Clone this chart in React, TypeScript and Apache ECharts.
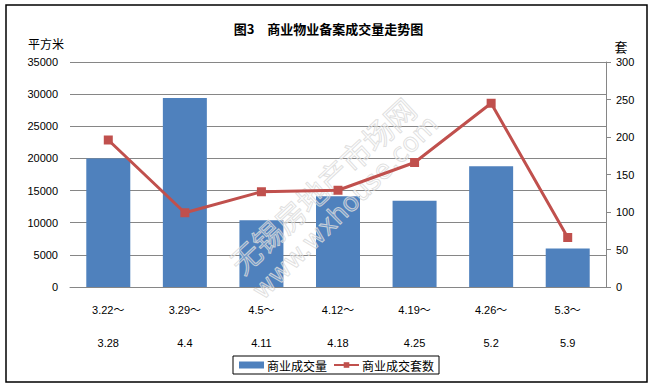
import React, { useEffect, useRef } from "react";
import * as echarts from "echarts";

const categories = ["3.22～\n3.28", "3.29～\n4.4", "4.5～\n4.11", "4.12～\n4.18", "4.19～\n4.25", "4.26～\n5.2", "5.3～\n5.9"];
const areaValues = [20000, 29400, 10400, 14100, 13400, 18800, 6000];
const unitValues = [196, 99, 127, 129, 166, 245, 66];
const leftTicks = { min: 0, max: 35000, interval: 5000 };
const rightTicks = { min: 0, max: 300, interval: 50 };
const titleText = "图3　商业物业备案成交量走势图";
const barName = "商业成交量";
const lineName = "商业成交套数";
const leftUnit = "平方米";
const rightUnit = "套";

const numFont = "'Liberation Sans', 'Noto Sans CJK SC', sans-serif";
const cjkFont = "'Noto Sans CJK SC', sans-serif";

export default function App() {
  const ref = useRef<HTMLDivElement>(null);
  useEffect(() => {
    document.body.style.margin = "0";
    const chart = echarts.init(ref.current!, null, { renderer: "svg" });
    chart.setOption({
      animation: false,
      backgroundColor: "#ffffff",
      title: {
        text: titleText,
        left: "center",
        top: 17,
        textStyle: { fontFamily: cjkFont, fontSize: 13, fontWeight: "bold", color: "#000" },
      },
      graphic: [
        {
          type: "rect",
          shape: { x: 6, y: 5, width: 641, height: 377 },
          style: { fill: "none", stroke: "#000", lineWidth: 1.5 },
          z: 0,
        },
        {
          type: "text",
          x: 46,
          y: 43,
          style: { text: leftUnit, font: "12px 'Noto Sans CJK SC'", fill: "#000", align: "center", verticalAlign: "middle" },
        },
        {
          type: "text",
          x: 621,
          y: 46,
          style: { text: rightUnit, font: "13px 'Noto Sans CJK SC'", fill: "#000", align: "center", verticalAlign: "middle" },
        },
        {
          type: "text",
          x: 322,
          y: 185,
          rotation: 0.75,
          z: 2.5,
          style: {
            text: "无锡房地产市场网",
            font: "30px 'Noto Sans CJK SC'",
            fill: "rgba(255,255,255,0.2)",
            stroke: "rgba(215,215,215,0.85)",
            lineWidth: 1,
            align: "center",
            verticalAlign: "middle",
          },
        },
        {
          type: "text",
          x: 345,
          y: 207,
          rotation: 0.78,
          z: 2.5,
          style: {
            text: "www.wxhouse.com",
            font: "26px 'DejaVu Sans'",
            fill: "rgba(255,255,255,0.2)",
            stroke: "rgba(215,215,215,0.85)",
            lineWidth: 1,
            align: "center",
            verticalAlign: "middle",
          },
        },
      ],
      legend: {
        data: [{ name: barName, icon: "rect" }, { name: lineName }],
        left: 233,
        top: 356,
        itemWidth: 25,
        itemHeight: 7,
        itemGap: 6,
        padding: [3, 5, 3, 6],
        borderColor: "#000",
        borderWidth: 1,
        borderRadius: 0,
        textStyle: { fontFamily: cjkFont, fontSize: 12, color: "#000", padding: [0, 0, 0, -2] },
      },
      grid: { left: 70, right: 51, top: 62, bottom: 101, containLabel: false },
      xAxis: {
        type: "category",
        data: categories,
        axisLine: { show: true, lineStyle: { color: "#868686", width: 1 } },
        axisTick: { show: false },
        axisLabel: {
          interval: 0,
          margin: 6,
          lineHeight: 33,
          fontFamily: numFont,
          fontSize: 11,
          color: "#000",
        },
      },
      yAxis: [
        {
          type: "value",
          min: leftTicks.min,
          max: leftTicks.max,
          interval: leftTicks.interval,
          axisLine: { show: false },
          axisTick: { show: false },
          splitLine: { lineStyle: { color: "#868686", width: 1 } },
          axisLabel: { fontFamily: numFont, fontSize: 11, color: "#000", margin: 12, formatter: (v: number) => String(v) },
        },
        {
          type: "value",
          min: rightTicks.min,
          max: rightTicks.max,
          interval: rightTicks.interval,
          position: "right",
          axisLine: { show: true, lineStyle: { color: "#868686", width: 1 } },
          axisTick: { show: true, length: 5, lineStyle: { color: "#868686" } },
          splitLine: { show: false },
          axisLabel: { fontFamily: numFont, fontSize: 11, color: "#000", margin: 10, formatter: (v: number) => String(v) },
        },
      ],
      series: [
        {
          name: barName,
          type: "bar",
          data: areaValues,
          yAxisIndex: 0,
          barWidth: 44,
          itemStyle: { color: "#4F81BD" },
          z: 2,
        },
        {
          name: lineName,
          type: "line",
          data: unitValues,
          yAxisIndex: 1,
          symbol: "rect",
          symbolSize: 9,
          lineStyle: { color: "#C0504D", width: 3 },
          itemStyle: { color: "#C0504D" },
          z: 3,
        },
      ],
    });
    return () => chart.dispose();
  }, []);
  return <div ref={ref} style={{ width: 657, height: 388 }} />;
}
